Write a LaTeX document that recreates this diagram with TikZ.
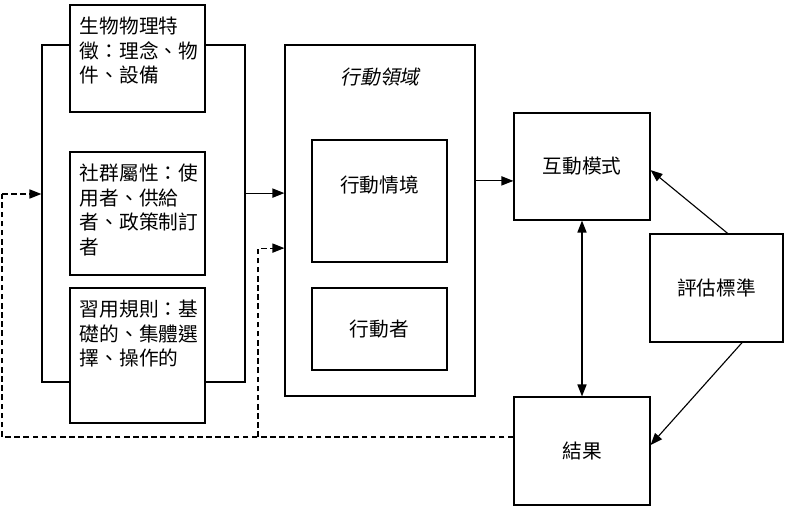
\documentclass[tikz,border=0pt]{standalone}
\usepackage{fontspec}
\setmainfont{Noto Sans CJK TC}
\newfontfamily\cjkslant[FakeSlant=0.2]{Noto Sans CJK TC}
\usetikzlibrary{arrows.meta, calc}

\begin{document}
\begin{tikzpicture}[x=0.025cm, y=-0.025cm, >={Triangle[length=8.5pt, width=6.5pt]},
  font=\fontsize{14}{17.5}\selectfont, line width=0.8pt,
  box/.style={draw, fill=white, inner sep=0pt},
  txtTL/.style={anchor=north west, align=left, inner sep=0pt, xshift=0.25cm, yshift=-0.3cm},
  fb/.style={dash pattern=on 4pt off 2.5pt}]
  \useasboundingbox (0,0) rectangle (785,515);

  % Context frame behind the three attribute boxes
  \node[box, fill=none, minimum width=5.075cm, minimum height=8.425cm] (ctx) at (143.5,213.5) {};

  % Attribute boxes
  \node[box, minimum width=3.375cm, minimum height=2.675cm,
    label={[txtTL]north west:{生物物理特\\徵：理念、物\\件、設備}}] (bio) at (137.5,58.5) {};
  \node[box, minimum width=3.375cm, minimum height=3.075cm,
    label={[txtTL]north west:{社群屬性：使\\用者、供給\\者、政策制訂\\者}}] (comm) at (137.5,213.5) {};
  \node[box, minimum width=3.375cm, minimum height=3.375cm,
    label={[txtTL]north west:{習用規則：基\\礎的、集體選\\擇、操作的}}] (rules) at (137.5,355.5) {};

  % Action arena
  \node[box, minimum width=4.75cm, minimum height=8.775cm,
    label={[anchor=center, yshift=-0.825cm, font=\cjkslant\fontsize{14}{17.5}\selectfont]north:行動領域}] (arena) at (380,220.5) {};
  \node[box, minimum width=3.375cm, minimum height=3.05cm,
    label={[yshift=0.4cm]center:行動情境}] (sit) at (379.5,201) {};
  \node[box, minimum width=3.375cm, minimum height=2.05cm] (actors) at (379.5,329) {行動者};

  % Right side
  \node[box, minimum width=3.4cm, minimum height=2.675cm] (pattern) at (582,166.5) {互動模式};
  \node[box, minimum width=3.325cm, minimum height=2.7cm] (eval) at (716.5,288) {評估標準};
  \node[box, minimum width=3.4cm, minimum height=2.7cm] (outcome) at (582,451) {結果};

  % Connectors
  \coordinate (ctxOut) at ([yshift=0.51cm]ctx.east);
  \draw[->] (ctxOut) -- (ctxOut -| arena.west);
  \coordinate (patIn) at ([yshift=-0.36cm]pattern.west);
  \draw[->] (patIn -| arena.east) -- (patIn);
  \draw[<->] (pattern) -- (outcome);
  \draw[->] ([xshift=0.28cm]eval.north) -- ([yshift=-0.09cm]pattern.east);
  \draw[->] ([xshift=0.64cm]eval.south) -- ([yshift=0.15cm]outcome.east);

  % Feedback
  \coordinate (fbOut) at ([yshift=0.35cm]outcome.west);
  \coordinate (fbLeft) at (2,194);
  \coordinate (fbSplit) at (258,437);
  \draw[fb] (fbOut) -| (fbLeft);
  \draw[fb, ->] (fbLeft) -- (fbLeft -| ctx.west);
  \draw[fb, ->] (fbSplit) |- ([yshift=-0.69cm]arena.west);
\end{tikzpicture}
\end{document}
